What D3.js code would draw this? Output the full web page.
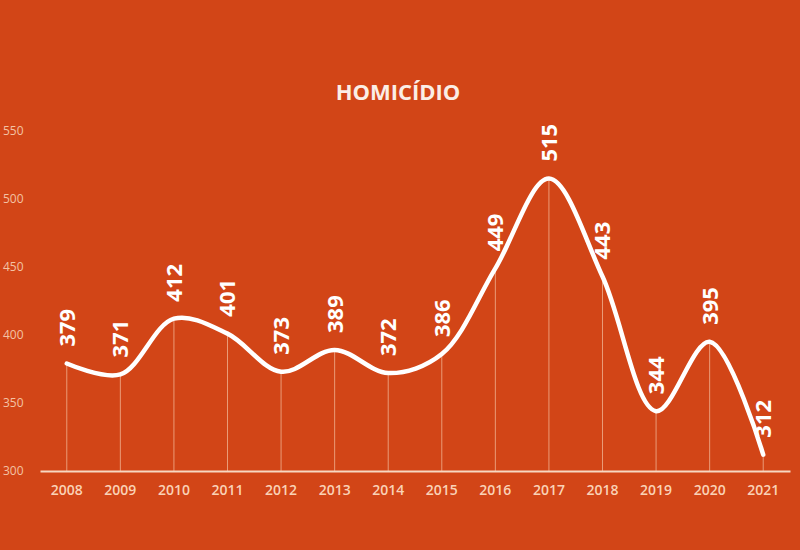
<!DOCTYPE html>
<html>
<head>
<meta charset="utf-8">
<script src="https://cdn.jsdelivr.net/npm/d3@7"></script>
<style>
  html, body { margin: 0; padding: 0; background: #d24517; }
  svg { display: block; }
</style>
</head>
<body>
<div id="chart"></div>
<script>
const years = ['2008', '2009', '2010', '2011', '2012', '2013', '2014',
  '2015', '2016', '2017', '2018', '2019', '2020', '2021'];
const homicides = [379, 371, 412, 401, 373, 389, 372, 386, 449, 515, 443, 344, 395, 312];
const yTicks = [300, 350, 400, 450, 500, 550];

const width = 800;
const height = 550;
const bg = '#d24517';

const svg = d3.select('#chart').append('svg')
    .attr('width', width)
    .attr('height', height);

svg.append('rect')
    .attr('width', width)
    .attr('height', height)
    .attr('fill', bg);

const x = d3.scaleBand()
  .domain(years)
  .range([40, 790]);

const y = d3.scaleLinear()
  .domain([300, 550])
  .range([471, 131]);

const cx = d => x(d) + x.bandwidth() / 2;

// title
svg.append('text')
    .attr('x', 398)
    .attr('y', 100)
    .attr('text-anchor', 'middle')
    .attr('font-family', 'Open Sans, sans-serif')
    .attr('font-weight', 700)
    .attr('font-size', 22)
    .attr('fill', '#fbeee6')
    .text('HOMICÍDIO');

// y tick labels (no axis line)
svg.append('g')
  .selectAll('text')
  .data(yTicks)
  .join('text')
    .attr('x', 3)
    .attr('y', d => y(d))
    .attr('dy', '0.35em')
    .attr('font-family', 'Open Sans, sans-serif')
    .attr('font-size', 12)
    .attr('fill', '#f3c2a4')
    .text(d => d);

// drop lines
svg.append('g')
  .selectAll('line')
  .data(homicides)
  .join('line')
    .attr('x1', (d, i) => cx(years[i]))
    .attr('x2', (d, i) => cx(years[i]))
    .attr('y1', d => y(d))
    .attr('y2', y(300))
    .attr('stroke', '#f0b090')
    .attr('stroke-opacity', 0.8)
    .attr('stroke-width', 1);

// x axis
const xAxis = d3.axisBottom(x).tickSize(0).tickPadding(14);
const gx = svg.append('g')
    .attr('transform', `translate(0, ${y(300)})`)
    .call(xAxis);
gx.select('.domain')
    .attr('stroke', '#f7d8c2')
    .attr('stroke-width', 2);
gx.selectAll('text')
    .attr('font-family', 'Open Sans, sans-serif')
    .attr('font-weight', 600)
    .attr('font-size', 14)
    .attr('fill', '#fad2b6');

// smooth line
const line = d3.line()
  .x((d, i) => cx(years[i]))
  .y(d => y(d))
  .curve(d3.curveCatmullRom.alpha(0.5));

svg.append('path')
    .datum(homicides)
    .attr('d', line)
    .attr('fill', 'none')
    .attr('stroke', '#ffffff')
    .attr('stroke-width', 4.5)
    .attr('stroke-linecap', 'round');

// value labels, rotated
svg.append('g')
  .selectAll('text')
  .data(homicides)
  .join('text')
    .attr('transform', (d, i) => `translate(${cx(years[i])}, ${y(d) - 17}) rotate(-90)`)
    .attr('dy', '0.36em')
    .attr('text-anchor', 'start')
    .attr('font-family', 'Open Sans, sans-serif')
    .attr('font-weight', 700)
    .attr('font-size', 22)
    .attr('fill', '#ffffff')
    .text(d => d);
</script>
</body>
</html>
